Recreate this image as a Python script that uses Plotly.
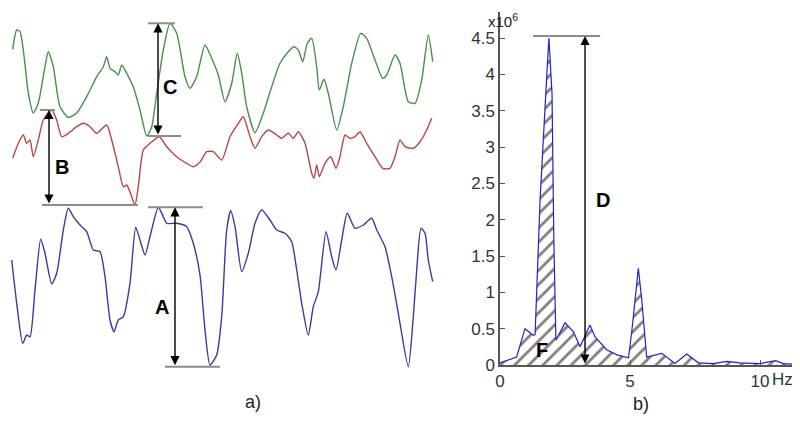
import plotly.graph_objects as go

# Panel a) three recorded signals (time in samples, amplitude in arbitrary units)
green_t = [12.7, 16.7, 20, 23.3, 28.3, 33.3, 38.3, 45, 48.3, 53.3, 60, 68.3, 76.7, 86.7, 96.7,
           103.3, 106.7, 110, 115, 118.3, 121.7, 126.7, 133.3, 140, 146.7, 151.7, 156.7, 163.3,
           170, 176.7, 185, 190, 196.7, 205, 211.7, 218.3, 225, 231.7, 237.3, 241.7, 246.7, 255,
           263.3, 271.7, 280, 288.3, 294, 298.3, 302.7, 307.3, 311.7, 316.7, 319.3, 324, 328.3,
           336.7, 343.3, 351.7, 360.7, 366.7, 375, 382.7, 386.7, 395, 400, 408.3, 415, 421.7,
           428.3, 432.7]
green_v = [330.7, 350, 348.3, 330, 287, 267, 277, 313.3, 328.3, 313.3, 273.3, 262.7, 267, 283.3,
           303.3, 313.3, 323.3, 311.7, 308.3, 305, 315, 306.7, 293.3, 270, 244, 253.3, 286.7, 330,
           356.7, 346.7, 303.3, 291.7, 303.3, 335, 321.7, 305, 278.3, 296.7, 326.7, 306.7, 273.3,
           247.3, 266.7, 293.3, 316.7, 328.3, 333.3, 330, 318.3, 336.7, 341.7, 313.3, 290, 300.7,
           286.7, 250, 273.3, 316.7, 346.7, 341.7, 320, 301.7, 305, 325, 316.7, 278.3, 276.7, 300,
           345, 318.3]

red_t = [12.7, 18.3, 23.3, 26.7, 30, 33.3, 38.3, 43.3, 51.7, 56.7, 61.7, 68.3, 76.7, 83.3, 90,
         96.7, 106.7, 111.7, 118.3, 123.3, 126.7, 131.7, 135, 138.3, 143.3, 150, 159.3, 166.7,
         176.7, 186.7, 193.3, 200, 206.7, 213.3, 221.7, 230, 238.3, 243.3, 250, 255, 261.7, 268.3,
         276.7, 281.7, 288.3, 293.3, 298.3, 305, 311.7, 314, 316.7, 319.3, 325, 330.7, 336, 340,
         345, 350, 355, 360, 366.7, 375, 382.7, 390, 395, 400, 405, 413.3, 420, 426.7, 431.7]
red_v = [221.7, 236.7, 245, 236.7, 240, 223.3, 240, 260, 270, 260, 243.3, 246.7, 253.3, 256.7,
         253.3, 246.7, 255, 240, 213.3, 193.3, 195, 183.3, 175, 193.3, 230, 236.7, 243.3, 233.3,
         223.3, 216.7, 213.3, 218, 228.3, 228.3, 220, 243.3, 256.7, 263.3, 243.3, 231.7, 243.3,
         250, 245, 241.7, 246.7, 241.7, 248.3, 236.7, 206.7, 201.7, 215, 203.3, 216.7, 223.3,
         211.7, 223.3, 245, 241.7, 243.3, 248.3, 236.7, 223.3, 211.7, 211.7, 223.3, 240, 233.3,
         231.7, 238.3, 250, 261.7]

blue_t = [11.7, 16.7, 22.7, 26.7, 30, 35, 40.7, 45, 51.7, 56.7, 63.3, 68.3, 73.3, 80, 86.7, 93.3,
          100, 105, 110, 114, 118.3, 123.3, 130, 135.7, 140, 145, 150, 158.3, 163.3, 166.7, 176.7,
          186.7, 193.3, 200, 205, 210, 216.7, 221.7, 226.7, 230.7, 235, 241.7, 248.3, 255, 261.7,
          270, 276.7, 285, 291.7, 296.7, 301.7, 308.3, 313.3, 318.3, 326, 331.7, 336, 341.7,
          347.3, 355, 363.3, 371.7, 376.7, 385, 391.7, 398.3, 408.3, 413.3, 416.7, 421, 425,
          428.3, 432.7]
blue_v = [120, 76.7, 36.7, 45, 43.3, 90, 140.7, 126.7, 96, 106.7, 150, 171.7, 163.3, 155, 148.3,
          130, 128.3, 103.3, 60, 48.3, 60, 63.3, 96.7, 152.7, 140, 125, 143.3, 172.7, 163.3, 156.7,
          156.7, 153.3, 136.7, 105, 50, 15, 25, 63.3, 150, 169.3, 153.3, 108.3, 126.7, 156.7, 170,
          160, 150, 146.7, 138.3, 110, 76.7, 45, 73.3, 88.3, 148.3, 123.3, 110, 140, 166.7, 151.7,
          155, 161.7, 150, 133.3, 103.3, 66.7, 13.3, 63.3, 110, 151.7, 146.7, 120, 98.3]

# Panel b) spectrum (Hz, x10^6)
freq = [0, 0.64, 0.96, 1.28, 1.35, 1.54, 1.81, 1.88, 2.0, 2.05, 2.07, 2.15, 2.5, 2.82, 3.08,
        3.46, 3.65, 4.1, 4.5, 4.94, 5.06, 5.32, 5.45, 5.64, 6.22, 6.73, 7.18, 7.63, 8.2, 8.72,
        9.23, 10.0, 10.6, 10.9, 11.35]
power = [0.03, 0.11, 0.5, 0.41, 0.42, 2.27, 4.06, 4.5, 3.74, 2.38, 1.72, 0.34, 0.58, 0.46, 0.25,
         0.55, 0.39, 0.21, 0.14, 0.1, 0.44, 1.33, 0.9, 0.11, 0.16, 0.02, 0.15, 0.03, 0.02, 0.05,
         0.03, 0.02, 0.06, 0.02, 0.01]

W, H, OFF = 800, 423, 8  # the page body adds an 8px margin around the figure


def fx(px):
    return (px - OFF) / W


def fy(py):
    return 1 - (py - OFF) / H


FONT = 'Liberation Sans, Arial'

fig = go.Figure()

sig_line = dict(width=1.4, shape='spline', smoothing=0.6)
fig.add_trace(go.Scatter(x=green_t, y=green_v, mode='lines',
                         line=dict(color='#4a8f4a', **sig_line), xaxis='x', yaxis='y'))
fig.add_trace(go.Scatter(x=red_t, y=red_v, mode='lines',
                         line=dict(color='#b84545', **sig_line), xaxis='x', yaxis='y'))
fig.add_trace(go.Scatter(x=blue_t, y=blue_v, mode='lines',
                         line=dict(color='#3a3aa0', **sig_line), xaxis='x', yaxis='y'))

fig.add_trace(go.Scatter(
    x=freq, y=power, mode='lines', fill='tozeroy',
    line=dict(color='#2323c8', width=1.2),
    fillpattern=dict(shape='/', fgcolor='#000000', bgcolor='white', size=10, solidity=0.28),
    xaxis='x2', yaxis='y2'))

gray = dict(color='#8c8c8c', width=2)
shapes = []
annotations = []


def hline(x0, x1, y, xr='x', yr='y'):
    shapes.append(dict(type='line', xref=xr, yref=yr, x0=x0, x1=x1, y0=y, y1=y, line=gray))


def darrow(x, y0, y1, xr='x', yr='y'):
    annotations.append(dict(x=x, y=y1, ax=x, ay=y0, xref=xr, yref=yr, axref=xr, ayref=yr,
                            text='', showarrow=True, arrowhead=2, arrowsize=1.3,
                            arrowwidth=1.4, arrowcolor='black', arrowside='end+start'))


def label(txt, x, y, xr='x', yr='y', size=20, bold=True, color='black'):
    annotations.append(dict(x=x, y=y, xref=xr, yref=yr, showarrow=False,
                            xanchor='center', yanchor='middle',
                            text=f'<b>{txt}</b>' if bold else txt,
                            font=dict(family=FONT, size=size, color=color)))


# C: green peak down to green trough
c_top, c_bot = max(green_v), min(green_v)
hline(148, 175, c_top)
hline(148, 181, c_bot)
darrow(158, c_bot, c_top)
label('C', 170, 293)

# B: red range
b_top, b_bot = max(red_v), min(red_v)
hline(40, 55, b_top)
hline(42, 138, b_bot)
darrow(49, b_bot, b_top)
label('B', 62, 213)

# A: blue range
a_top, a_bot = max(blue_v), min(blue_v)
hline(148, 203, a_top)
hline(165, 220, a_bot)
darrow(175, a_bot, a_top)
label('A', 162, 73)

# D: spectral peak
d_top = max(power) + 0.03
hline(1.27, 3.85, d_top, 'x2', 'y2')
darrow(3.27, 0, d_top, 'x2', 'y2')
label('D', 3.96, 2.27, 'x2', 'y2')
label('F', 1.6, 0.2, 'x2', 'y2')

label('Hz', fx(782), fy(379), 'paper', 'paper', size=17, bold=False, color='#333333')
label('x10<sup>6</sup>', fx(503), fy(20), 'paper', 'paper', size=15, bold=False,
      color='#222222')
label('a)', fx(253), fy(402), 'paper', 'paper', size=18, bold=False, color='#222222')
label('b)', fx(641), fy(404), 'paper', 'paper', size=18, bold=False, color='#222222')

hidden = dict(visible=False, showgrid=False, zeroline=False, automargin=False)
axis_style = dict(showline=True, linecolor='#555555', linewidth=1.5, ticks='inside',
                  ticklen=5, tickcolor='#555555', showgrid=False, zeroline=False,
                  automargin=False, tickfont=dict(family=FONT, size=17, color='#333333'))
fig.update_layout(
    width=W, height=H,
    margin=dict(l=0, r=0, t=0, b=0, autoexpand=False),
    paper_bgcolor='white', plot_bgcolor='white',
    showlegend=False,
    font=dict(family=FONT, size=16, color='#333333'),
    xaxis=dict(domain=[fx(10), fx(440)], range=[10, 440], **hidden),
    yaxis=dict(domain=[fy(380), fy(10)], range=[0, 370], **hidden),
    xaxis2=dict(domain=[fx(500), fx(797)], range=[0, 11.42], anchor='y2',
                tickvals=[0, 5, 10], ticktext=['0', '5', '10'], **axis_style),
    yaxis2=dict(domain=[fy(365), fy(12)], range=[0, 4.86], anchor='x2',
                tickvals=[0, 0.5, 1, 1.5, 2, 2.5, 3, 3.5, 4, 4.5], **axis_style),
    shapes=shapes,
    annotations=annotations,
)

fig.write_html("out.html")
